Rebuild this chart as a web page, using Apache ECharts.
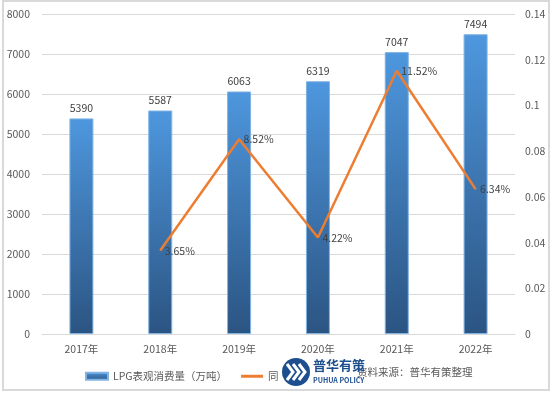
<!DOCTYPE html>
<html><head><meta charset="utf-8">
<script src="https://cdn.jsdelivr.net/npm/echarts@6/dist/echarts.min.js"></script>
<style>html,body{margin:0;padding:0;background:#fff;}#c{width:554px;height:393px;}</style>
</head><body><div id="c"></div>
<script>
var categories = ['2017年','2018年','2019年','2020年','2021年','2022年'];
var consumption = [5390, 5587, 6063, 6319, 7047, 7494];
var growth = [null, 0.0365, 0.0852, 0.0422, 0.1152, 0.0634];
var growthLabels = ['', '3.65%', '8.52%', '4.22%', '11.52%', '6.34%'];
var seriesNames = ['LPG表观消费量（万吨）', '同比增长（%）'];
var sourceText = '资料来源：普华有策整理';

var font = '"Microsoft YaHei","Noto Sans CJK SC",sans-serif';
var chart = echarts.init(document.getElementById('c'), null, {renderer:'canvas'});
chart.setOption({
  animation: false,
  backgroundColor: '#fff',
  textStyle: {fontFamily: font},
  grid: {left: 42, right: 39, top: 14, bottom: 59},
  legend: {
    left: 80, top: 366, itemGap: 14, itemWidth: 22, itemHeight: 7,
    textStyle: {color: '#595959', fontSize: 10.5, fontFamily: font},
    data: [{name: seriesNames[0], icon: 'rect'},
           {name: seriesNames[1], icon: 'path://M0,0 L22,0 L22,3 L0,3Z'}]
  },
  xAxis: {
    type: 'category', data: categories,
    axisLine: {lineStyle: {color: '#d9d9d9', width: 1}},
    axisTick: {show: false},
    axisLabel: {color: '#595959', fontSize: 10.5, margin: 10}
  },
  yAxis: [{
    type: 'value', min: 0, max: 8000, interval: 1000,
    axisLine: {show: false}, axisTick: {show: false},
    splitLine: {lineStyle: {color: '#d9d9d9'}},
    axisLabel: {color: '#595959', fontSize: 10.5, margin: 12,
      formatter: function(v){ return String(v); }}
  }, {
    type: 'value', min: 0, max: 0.14, interval: 0.02,
    axisLine: {show: false}, axisTick: {show: false},
    splitLine: {show: false},
    axisLabel: {color: '#595959', fontSize: 10.5, margin: 10,
      formatter: function(v){ return String(Math.round(v*100)/100); }}
  }],
  series: [{
    name: seriesNames[0], type: 'bar', data: consumption, barWidth: 24,
    itemStyle: {
      color: new echarts.graphic.LinearGradient(0,0,0,1,[
        {offset:0, color:'#4e97de'},{offset:1, color:'#2b5482'}]),
      borderColor: '#7fb3e3', borderWidth: 1
    },
    label: {show: true, position: 'top', distance: 5, color: '#404040', fontSize: 10.5}
  }, {
    name: seriesNames[1], type: 'line', yAxisIndex: 1, data: growth,
    symbol: 'circle', symbolSize: 1, showSymbol: true, connectNulls: false,
    lineStyle: {color: '#ED7D31', width: 2.5},
    itemStyle: {color: '#ED7D31'},
    label: {show: true, position: 'right', distance: 4, color: '#404040', fontSize: 10.5,
      formatter: function(p){ return growthLabels[p.dataIndex]; }}
  }],
  graphic: [
    {type:'rect', shape:{x:3, y:1, width:546, height:389}, style:{fill:'none', stroke:'#d9d9d9', lineWidth:2}, silent:true},
    {type:'rect', shape:{x:278, y:356, width:77, height:33}, style:{fill:'#fff'}, z:100},
    {type:'text', x:357, y:367, style:{text: sourceText, fill:'#595959', font:'10.5px ' + font}, z:101},
    {type:'circle', shape:{cx:296, cy:372, r:14}, style:{fill:'#1d4f8e'}, z:102},
    {type:'polyline', shape:{points:[[287,364],[293,372],[287,380]]}, style:{stroke:'#fff', lineWidth:3, fill:'none'}, z:103},
    {type:'polyline', shape:{points:[[293,364],[299,372],[293,380]]}, style:{stroke:'#fff', lineWidth:3, fill:'none'}, z:103},
    {type:'polyline', shape:{points:[[299,364],[305,372],[299,380]]}, style:{stroke:'#fff', lineWidth:3, fill:'none'}, z:103},
    {type:'text', x:313, y:359, style:{text:'普华有策', fill:'#1d4f8e', font:'bold 13px ' + font}, z:104},
    {type:'text', x:313, y:377, style:{text:'PUHUA POLICY', fill:'#1d4f8e', font:'bold 7px ' + font}, z:104}
  ]
});
</script></body></html>
